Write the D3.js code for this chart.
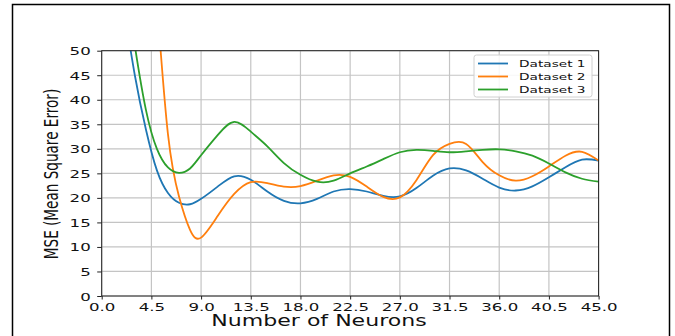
<!DOCTYPE html>
<html>
<head>
<meta charset="utf-8">
<script src="https://cdn.jsdelivr.net/npm/d3@7"></script>
<style>
  body { margin: 0; background: #fff; }
  svg { display: block; font-family: "DejaVu Sans", sans-serif; }
</style>
</head>
<body>
<div id="chart"></div>
<script>
// values
const neurons = [2, 3, 4, 5, 6, 7, 8, 9, 10.5, 12, 13.5, 15, 16.5, 18, 19.5, 21, 22.5, 24, 25.5, 27,
  28.5, 30, 31.5, 33, 34.5, 36, 37.5, 39, 40.5, 42, 43.5, 45];
const dataset1 = [59, 45, 34, 25.6, 21.0, 19.0, 18.7, 19.8, 22.3, 24.4, 23.7, 21.3, 19.4, 18.9, 19.8, 21.3,
  21.8, 21.3, 20.4, 20.3, 22.0, 24.5, 26.0, 25.6, 23.9, 22.1, 21.5, 22.35, 24.2, 26.25, 27.8, 27.6];
const dataset2 = [null, null, null, 60, 33, 20.3, 13.5, 11.9, 16.3, 20.8, 23.2, 23.0, 22.3, 22.4, 23.5, 24.6,
  24.3, 22.3, 20.2, 20.1, 23.6, 28.7, 31.0, 31.0, 27.3, 24.6, 23.5, 24.4, 26.4, 28.6, 29.4, 27.6];
const dataset3 = [66, 51, 38.0, 30.0, 26.2, 25.1, 26.0, 28.7, 32.8, 35.5, 33.5, 30.5, 27.1, 24.7, 23.3, 23.5,
  25.0, 26.4, 27.9, 29.3, 29.8, 29.6, 29.3, 29.5, 29.8, 29.9, 29.5, 28.6, 27.0, 25.2, 23.9, 23.3];
const seriesNames = ["Dataset 1", "Dataset 2", "Dataset 3"];
const seriesColors = ["#1f77b4", "#ff7f0e", "#2ca02c"];
const xTicks = [0, 4.5, 9, 13.5, 18, 22.5, 27, 31.5, 36, 40.5, 45];
const yTicks = [0, 5, 10, 15, 20, 25, 30, 35, 40, 45, 50];

const width = 675, height = 336;
const plot = { left: 101.7, right: 598.6, top: 50.7, bottom: 296 };
const stretch = 1.47; // picture text is wider than it is tall

const svg = d3.select("#chart").append("svg")
  .attr("width", width)
  .attr("height", height);

// outer frame
svg.append("rect")
  .attr("x", 12.5).attr("y", 4.5)
  .attr("width", 657).attr("height", 340)
  .attr("fill", "none")
  .attr("stroke", "#000")
  .attr("stroke-width", 1.5);

const x = d3.scaleLinear().domain([0, 45]).range([plot.left, plot.right]);
const y = d3.scaleLinear().domain([0, 50]).range([plot.bottom, plot.top]);

svg.append("defs").append("clipPath").attr("id", "plotclip")
  .append("rect")
  .attr("x", plot.left).attr("y", plot.top)
  .attr("width", plot.right - plot.left).attr("height", plot.bottom - plot.top);

// grid
const grid = svg.append("g").attr("stroke", "#c4c4c4").attr("stroke-width", 1.2);
grid.selectAll("line.gx").data(xTicks).join("line")
  .attr("class", "gx")
  .attr("x1", d => x(d)).attr("x2", d => x(d))
  .attr("y1", plot.top).attr("y2", plot.bottom);
grid.selectAll("line.gy").data(yTicks).join("line")
  .attr("class", "gy")
  .attr("x1", plot.left).attr("x2", plot.right)
  .attr("y1", d => y(d)).attr("y2", d => y(d));

// curves
const line = d3.line()
  .x(d => x(d[0]))
  .y(d => y(d[1]))
  .curve(d3.curveNatural);

const series = [dataset1, dataset2, dataset3].map(vals =>
  neurons.map((n, i) => [n, vals[i]]).filter(p => p[1] !== null));

svg.append("g").attr("clip-path", "url(#plotclip)")
  .selectAll("path").data(series).join("path")
  .attr("d", line)
  .attr("fill", "none")
  .attr("stroke", (d, i) => seriesColors[i])
  .attr("stroke-width", 1.8);

// spines
svg.append("rect")
  .attr("x", plot.left).attr("y", plot.top)
  .attr("width", plot.right - plot.left).attr("height", plot.bottom - plot.top)
  .attr("fill", "none")
  .attr("stroke", "#222")
  .attr("stroke-width", 1);

// axes
const xAxis = svg.append("g")
  .attr("transform", `translate(0,${plot.bottom})`)
  .call(d3.axisBottom(x).tickValues(xTicks).tickSize(3.5).tickFormat(d3.format(".1f")));
const yAxis = svg.append("g")
  .attr("transform", `translate(${plot.left},0)`)
  .call(d3.axisLeft(y).tickValues(yTicks).tickSize(4.5).tickFormat(d3.format("d")));

[xAxis, yAxis].forEach(a => {
  a.select(".domain").remove();
  a.selectAll(".tick line").attr("stroke", "#222");
});

xAxis.selectAll(".tick text")
  .attr("y", null).attr("dy", null)
  .attr("transform", `translate(0,15) scale(${stretch},1)`)
  .attr("font-size", 11.3)
  .attr("font-family", "DejaVu Sans")
  .attr("fill", "#111");
yAxis.selectAll(".tick text")
  .attr("x", null).attr("dy", null)
  .attr("transform", `translate(-11,4) scale(${stretch},1)`)
  .attr("font-size", 11.3)
  .attr("font-family", "DejaVu Sans")
  .attr("fill", "#111");

// axis titles
svg.append("text")
  .attr("transform", `translate(319,326) scale(${stretch},1)`)
  .attr("text-anchor", "middle")
  .attr("font-size", 15)
  .attr("fill", "#111")
  .text("Number of Neurons");

svg.append("text")
  .attr("transform", `translate(57.5,174) scale(${stretch},1) rotate(-90)`)
  .attr("text-anchor", "middle")
  .attr("font-size", 13.6)
  .attr("fill", "#111")
  .text("MSE (Mean Square Error)");

// legend
const legend = svg.append("g");
legend.append("rect")
  .attr("x", 474).attr("y", 55)
  .attr("width", 118).attr("height", 42)
  .attr("rx", 2.5)
  .attr("fill", "#fff").attr("fill-opacity", 0.85)
  .attr("stroke", "#d0d0d0");

const rows = legend.selectAll("g.row").data(seriesNames).join("g")
  .attr("class", "row")
  .attr("transform", (d, i) => `translate(0,${63.5 + i * 13})`);
rows.append("line")
  .attr("x1", 478).attr("x2", 508)
  .attr("stroke", (d, i) => seriesColors[i])
  .attr("stroke-width", 1.8);
rows.append("text")
  .attr("transform", `translate(519,3.6) scale(${stretch},1)`)
  .attr("font-size", 9.3)
  .attr("fill", "#111")
  .text(d => d);
</script>
</body>
</html>
